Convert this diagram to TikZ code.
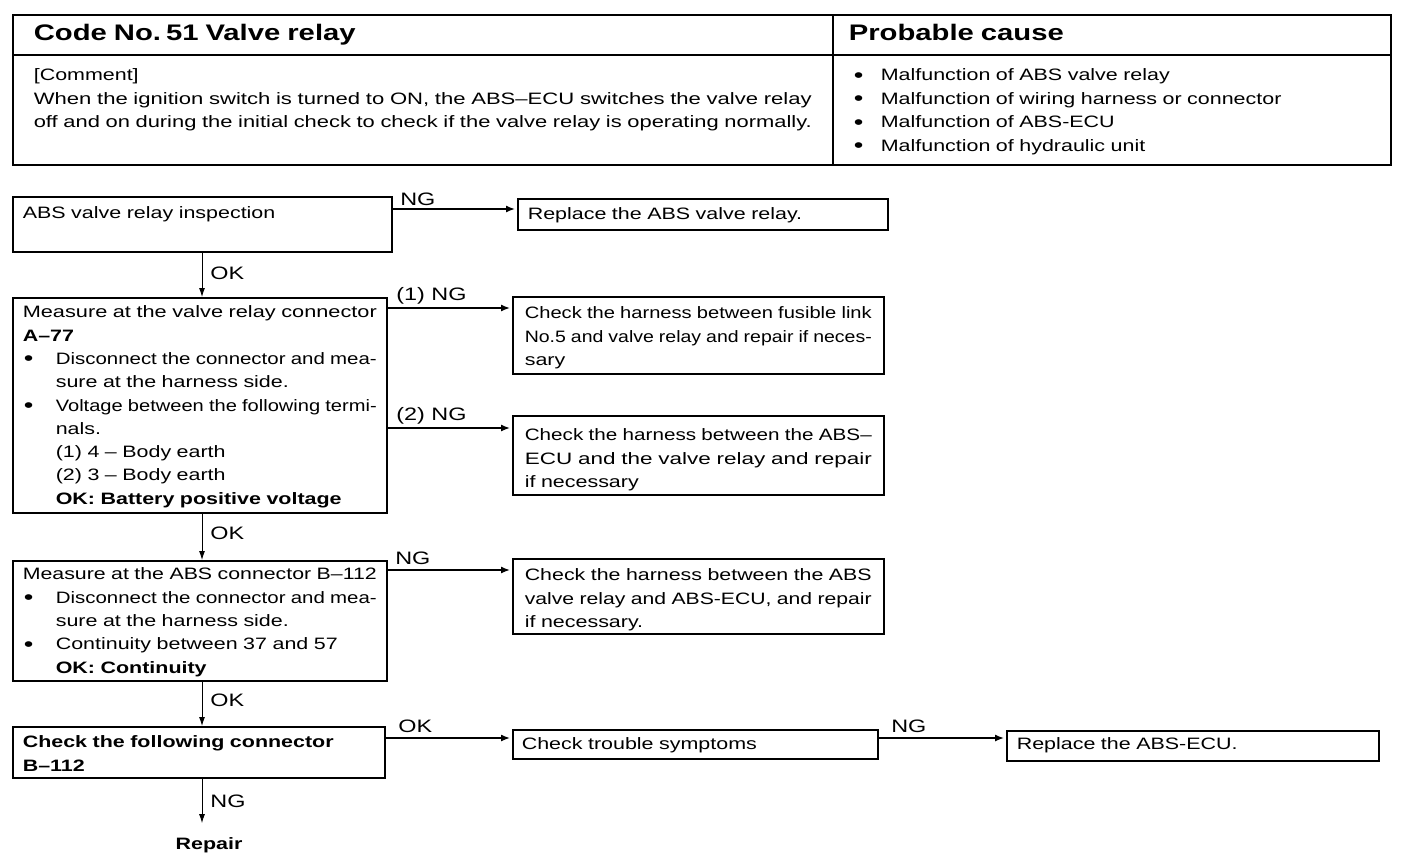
\documentclass[tikz,border=0pt]{standalone}
\usepackage{fontspec}
\usepackage{graphicx}
\setmainfont{Liberation Sans}[FakeStretch=1.3]
\usetikzlibrary{calc,arrows.meta}
\newcommand{\bodyf}{\fontsize{16.5}{23.3}\selectfont}
\newcommand{\headf}{\fontsize{22.5}{26}\selectfont\bfseries\spaceskip=7pt\relax}
\newcommand{\bigdot}{\raisebox{-1.5pt}{\fontsize{21}{21}\selectfont\textbullet}}
\newcommand{\bul}{\makebox[33pt][l]{\hspace{1pt}\bigdot}}
\newcommand{\hbul}{\makebox[27pt][l]{\bigdot}}
\newcommand{\ind}{\hspace*{33pt}}
\newlength{\fw}
\newcommand{\fl}[1]{\resizebox{\linewidth}{\height}{#1}}
\newcommand{\bfl}[1]{\setlength{\fw}{\linewidth}\addtolength{\fw}{-33pt}\bul\resizebox{\fw}{\height}{#1}}
\tikzset{
  bx/.style={draw, line width=1.6pt, anchor=north west, inner ysep=0pt, inner xsep=10pt, align=left, font=\bodyf},
  cell/.style={draw, line width=1.6pt, anchor=north west, inner ysep=0pt, align=left},
  arr/.style={line width=1.4pt, -{Latex[length=9pt,width=7pt]}, shorten >=2pt},
  varr/.style={line width=0.9pt, -{Latex[length=9pt,width=6pt]}},
  lbl/.style={font=\fontsize{18}{20}\selectfont, inner sep=0pt},
}
\begin{document}
\begin{tikzpicture}[x=1pt,y=-1pt]
\useasboundingbox (0,0) rectangle (1408,862);
% header table
\node[cell, inner xsep=21pt, text width=778pt, text height=26pt, text depth=14pt] (hL) at (12,14) {\headf Code No. 51 Valve relay};
\node[cell, inner xsep=16pt, text width=526pt, text height=26pt, text depth=14pt] (hR) at (832,14) {\headf Probable cause};
\node[cell, inner xsep=21pt, text width=778pt, text height=26pt, text depth=84pt, font=\fontsize{16.5}{23.5}\selectfont] (cL) at (12,54)
  {[Comment]\\
   \fl{When the ignition switch is turned to ON, the ABS–ECU switches the valve relay}\\
   \fl{off and on during the initial check to check if the valve relay is operating normally.}};
\node[cell, inner xsep=21pt, text width=516pt, text height=26pt, text depth=84pt, font=\fontsize{16.5}{23.5}\selectfont] (cR) at (832,54)
  {\hbul Malfunction of ABS valve relay\\
   \hbul Malfunction of wiring harness or connector\\
   \hbul Malfunction of ABS-ECU\\
   \hbul Malfunction of hydraulic unit};
% flow boxes
\node[bx, text width=359pt, text height=22pt, text depth=33pt] (b1) at (12,196) {ABS valve relay inspection};
\node[bx, text width=350pt, text height=21pt, text depth=10pt] (r1) at (517,198) {Replace the ABS valve relay.};
\node[bx, text width=354pt, text height=20pt, text depth=195pt] (b2) at (12,297)
  {\fl{Measure at the valve relay connector}\\
   \textbf{A–77}\\
   \bfl{Disconnect the connector and mea-}\\
   \ind sure at the harness side.\\
   \bfl{Voltage between the following termi-}\\
   \ind nals.\\
   \ind (1) 4 – Body earth\\
   \ind (2) 3 – Body earth\\
   \ind\textbf{OK: Battery positive voltage}};
\node[bx, inner xsep=12pt, text width=347pt, text height=22pt, text depth=55pt] (r2) at (512,296)
  {\fl{Check the harness between fusible link}\\
   \fl{No.5 and valve relay and repair if neces-}\\
   sary};
\node[bx, inner xsep=12pt, text width=347pt, text height=25pt, text depth=54pt] (r3) at (512,415)
  {\fl{Check the harness between the ABS–}\\
   \fl{ECU and the valve relay and repair}\\
   if necessary};
\node[bx, text width=354pt, text height=19pt, text depth=101pt] (b3) at (12,560)
  {\fl{Measure at the ABS connector B–112}\\
   \bfl{Disconnect the connector and mea-}\\
   \ind sure at the harness side.\\
   \bul Continuity between 37 and 57\\
   \ind\textbf{OK: Continuity}};
\node[bx, inner xsep=12pt, text width=347pt, text height=22pt, text depth=53pt] (r4) at (512,558)
  {\fl{Check the harness between the ABS}\\
   \fl{valve relay and ABS-ECU, and repair}\\
   if necessary.};
\node[bx, text width=352pt, text height=21pt, text depth=30pt] (b4) at (12,726)
  {\textbf{Check the following connector}\\
   \textbf{B–112}};
\node[bx, inner xsep=9pt, text width=347pt, text height=20pt, text depth=9pt] (r5) at (512,729) {Check trouble symptoms};
\node[bx, text width=352pt, text height=19pt, text depth=11pt] (r6) at (1006,730) {Replace the ABS-ECU.};
\node[font=\bodyf\bfseries, inner sep=0pt] (rep) at (209,845) {Repair};
% horizontal connectors
\draw[arr] ($(b1.north east)+(0,13)$) coordinate (s1) -- (s1 -| r1.west) node[lbl, pos=0, anchor=south west, xshift=7pt, yshift=3pt] {NG};
\draw[arr] ($(b2.north east)+(0,11)$) coordinate (s2) -- (s2 -| r2.west) node[lbl, pos=0, anchor=south west, xshift=8pt, yshift=3pt] {(1) NG};
\draw[arr] ($(b2.north east)+(0,131)$) coordinate (s3) -- (s3 -| r3.west) node[lbl, pos=0, anchor=south west, xshift=8pt, yshift=3pt] {(2) NG};
\draw[arr] ($(b3.north east)+(0,10)$) coordinate (s4) -- (s4 -| r4.west) node[lbl, pos=0, anchor=south west, xshift=7pt, yshift=5pt] {NG};
\draw[arr] ($(b4.north east)+(0,12)$) coordinate (s5) -- (s5 -| r5.west) node[lbl, pos=0, anchor=south west, xshift=12pt, yshift=5pt] {OK};
\draw[arr] ($(r5.north east)+(0,9)$) coordinate (s6) -- (s6 -| r6.west) node[lbl, pos=0, anchor=south west, xshift=12pt, yshift=5pt] {NG};
% vertical connectors
\draw[varr] (b1.south -| 202,0) -- (b2.north -| 202,0) node[lbl, midway, anchor=west, xshift=8pt, yshift=2pt] {OK};
\draw[varr] (b2.south -| 202,0) -- (b3.north -| 202,0) node[lbl, midway, anchor=west, xshift=8pt, yshift=4pt] {OK};
\draw[varr] (b3.south -| 202,0) -- (b4.north -| 202,0) node[lbl, midway, anchor=west, xshift=8pt, yshift=4pt] {OK};
\draw[varr] (b4.south -| 202,0) -- ($(rep.north -| 202,0)+(0,-14)$) node[lbl, midway, anchor=west, xshift=8pt] {NG};
\end{tikzpicture}
\end{document}
